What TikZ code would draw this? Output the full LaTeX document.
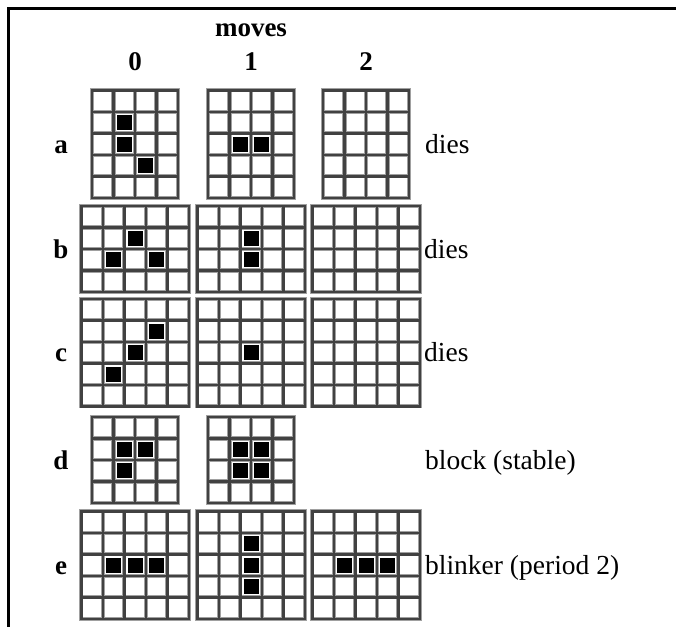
\documentclass[tikz,border=0pt]{standalone}
\usepackage{fontspec}
\setmainfont{Liberation Serif}
\begin{document}
\begin{tikzpicture}[x=1pt,y=-1pt,
  gridhalo/.style={line width=4.4pt, line cap=rect, draw={rgb,255:red,160;green,160;blue,160}},
  gridline/.style={line width=2.5pt, line cap=rect, draw={rgb,255:red,65;green,65;blue,65}},
  live/.style={fill=black},
  lbl/.style={font=\fontsize{27}{31}\selectfont\bfseries, inner sep=0pt, anchor=base},
  note/.style={font=\fontsize{27.5}{31}\selectfont, inner sep=0pt, anchor=base west},
  frame/.style={line width=3pt, draw=black}]
\useasboundingbox (0,0) rectangle (676,627);
\def\cs{21.5}
\newcommand\lifegrid[5]{%
 \begin{scope}[shift={({#1-#3*\cs/2},{#2-#4*\cs/2})}]
   \foreach \i in {0,...,#3} \draw[gridhalo] (\i*\cs,0) -- (\i*\cs,#4*\cs);
   \foreach \j in {0,...,#4} \draw[gridhalo] (0,\j*\cs) -- (#3*\cs,\j*\cs);
   \foreach \i in {0,...,#3} \draw[gridline] (\i*\cs,0) -- (\i*\cs,#4*\cs);
   \foreach \j in {0,...,#4} \draw[gridline] (0,\j*\cs) -- (#3*\cs,\j*\cs);
   \if\relax\detokenize{#5}\relax\else
   \foreach \c/\r in {#5} \fill[live] (\c*\cs+\cs/2-7.5,\r*\cs+\cs/2-7.5) rectangle ++(15,15);
   \fi
 \end{scope}}
% frame
\coordinate (ftl) at (8,8);
\coordinate (ftr) at (676,8);
\coordinate (fbl) at (8,627);
\draw[frame] (ftr) -- (ftl) -- (fbl);
% headers
\node[lbl] (moves) at (251,36) {moves};
\node[lbl] (h0) at (135,70) {0};
\node[lbl] (h1) at (251,70) {1};
\node[lbl] (h2) at (366,70) {2};
% row labels
\node[lbl] (la) at (61,153) {a};
\node[lbl] (lb) at (61,258) {b};
\node[lbl] (lc) at (61,361.5) {c};
\node[lbl] (ld) at (61,469) {d};
\node[lbl] (le) at (61,574) {e};
% notes
\node[note] (na) at (425,153) {dies};
\node[note] (nb) at (424,258) {dies};
\node[note] (nc) at (424,361.5) {dies};
\node[note] (nd) at (425,469) {block (stable)};
\node[note] (ne) at (425,574) {blinker (period 2)};
% grids
\lifegrid{135}{144}{4}{5}{1/1,1/2,2/3}
\lifegrid{251}{144}{4}{5}{1/2,2/2}
\lifegrid{366}{144}{4}{5}{}
\lifegrid{135}{249}{5}{4}{2/1,1/2,3/2}
\lifegrid{251}{249}{5}{4}{2/1,2/2}
\lifegrid{366}{249}{5}{4}{}
\lifegrid{135}{352.5}{5}{5}{3/1,2/2,1/3}
\lifegrid{251}{352.5}{5}{5}{2/2}
\lifegrid{366}{352.5}{5}{5}{}
\lifegrid{135}{460}{4}{4}{1/1,2/1,1/2}
\lifegrid{251}{460}{4}{4}{1/1,2/1,1/2,2/2}
\lifegrid{135}{565}{5}{5}{1/2,2/2,3/2}
\lifegrid{251}{565}{5}{5}{2/1,2/2,2/3}
\lifegrid{366}{565}{5}{5}{1/2,2/2,3/2}
\end{tikzpicture}
\end{document}
